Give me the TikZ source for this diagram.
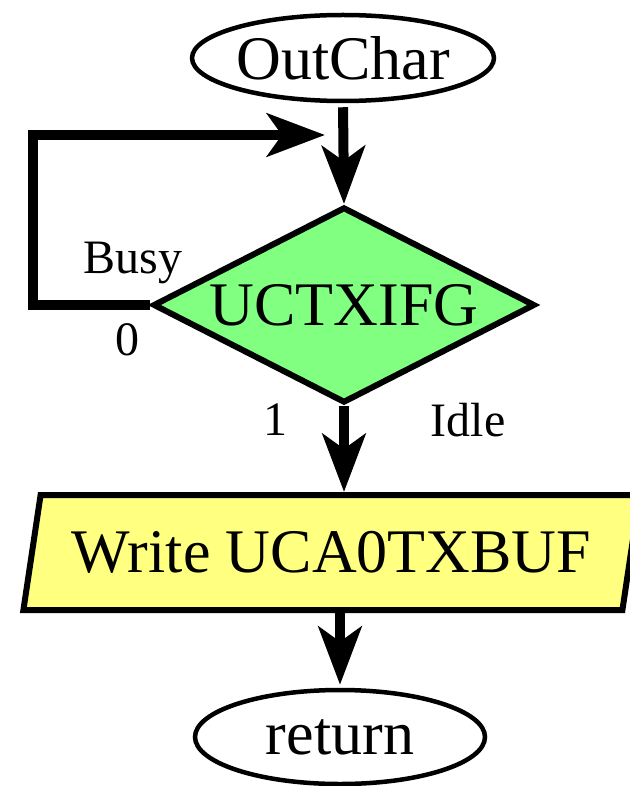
\documentclass[tikz,border=0pt]{standalone}
\usepackage{fontspec}
\setmainfont{Liberation Serif}
\usetikzlibrary{shapes.geometric,arrows.meta}
\definecolor{decgreen}{RGB}{128,255,128}
\definecolor{ioyellow}{RGB}{255,255,128}
\begin{document}
\begin{tikzpicture}[x=1pt,y=-1pt,
  bigtext/.style={font=\fontsize{62}{70}\selectfont},
  lbl/.style={font=\fontsize{48}{56}\selectfont, inner sep=0pt},
  terminal/.style={ellipse, draw, line width=4.5pt, inner sep=0pt,
    minimum width=290pt, bigtext},
  decision/.style={diamond, aspect=1.95, draw, line width=6pt, fill=decgreen, inner sep=0pt,
    minimum width=382pt, minimum height=196pt, bigtext},
  iobox/.style={trapezium, trapezium stretches=true, trapezium left angle=70,
    trapezium right angle=110, draw, line width=6pt, fill=ioyellow, inner sep=0pt,
    minimum width=617pt, minimum height=115pt, bigtext},
  flow/.style={line width=10pt, -{Stealth[length=58pt, width=43pt, inset=15pt]}}]
\useasboundingbox (0,0) rectangle (629,786);

% blocks
\node[terminal, minimum height=86pt] (outchar) at (343,58) {OutChar};
\node[decision] (test) at (344,305) {\raisebox{-4pt}{UCTXIFG}};
\node[iobox] (write) at (331.5,552.5) {Write UCA0TXBUF};
\node[terminal, minimum height=94pt] (ret) at (340,737) {return};

% busy-wait loop and main flow
\coordinate (loopend) at (325,135);
\draw[flow, shorten <=4pt] (outchar.south) -- (test.north);
\draw[flow] (test.west) -- ++(-117,0) |- (loopend);
\draw[flow] (test.south) -- (test.south |- write.north);
\draw[flow, shorten >=3pt] (write.south -| ret.north) -- (ret.north);

% branch labels
\node[lbl, anchor=base] (busy) at (133,273) {Busy};
\node[lbl] (zero) at (127,340) {0};
\node[lbl] (one) at (275,420) {1};
\node[lbl] (idle) at (468,420) {Idle};
\end{tikzpicture}
\end{document}
